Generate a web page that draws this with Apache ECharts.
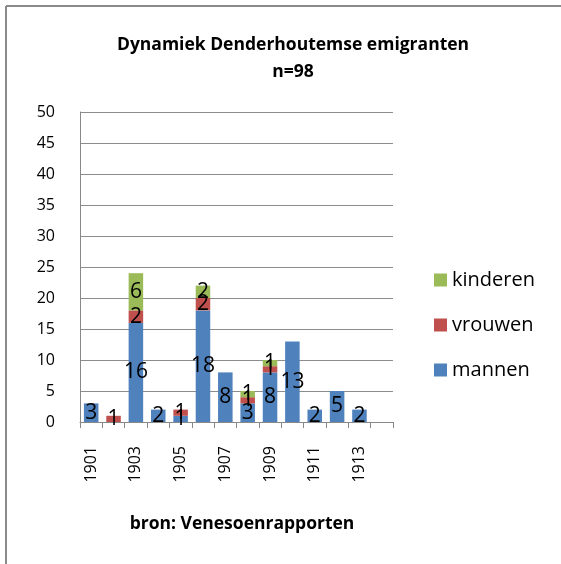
<!DOCTYPE html>
<html>
<head>
<meta charset="utf-8">
<script src="https://cdn.jsdelivr.net/npm/echarts@6/dist/echarts.min.js"></script>
<style>
html, body { margin: 0; padding: 0; background: #fff; }
#chart { width: 561px; height: 564px; }
</style>
</head>
<body>
<div id="chart"></div>
<script>
// categorieen en waarden (laatste vak is leeg in het origineel)
var jaren = ['1901','1902','1903','1904','1905','1906','1907','1908','1909','1910','1911','1912','1913','1914'];
var mannen   = [3, 0, 16, 2, 1, 18, 8, 3, 8, 13, 2, 5, 2, 0];
var vrouwen  = [0, 1, 2, 0, 1, 2, 0, 1, 1, 0, 0, 0, 0, 0];
var kinderen = [0, 0, 6, 0, 0, 2, 0, 1, 1, 0, 0, 0, 0, 0];
var yTicks = [0, 5, 10, 15, 20, 25, 30, 35, 40, 45, 50];

var font = '"Open Sans", Lato, sans-serif';

var myChart = echarts.init(document.getElementById('chart'));

function serie(naam, data, kleur) {
    return {
        name: naam,
        type: 'bar',
        stack: 'totaal',
        barCategoryGap: '35%',
        itemStyle: { color: kleur },
        label: {
            show: true,
            position: 'inside',
            color: '#000',
            fontSize: 21,
            fontFamily: font,
            formatter: function (p) { return p.value ? p.value : ''; }
        },
        data: data.map(function (v) { return v === 0 ? null : v; })
    };
}

var option = {
    animation: false,
    backgroundColor: '#fff',
    textStyle: { fontFamily: font },
    title: [{
        text: 'Dynamiek Denderhoutemse emigranten\nn=98',
        left: 288,
        top: 27,
        textAlign: 'center',
        textStyle: { fontSize: 17.5, fontWeight: 'bold', color: '#000', fontFamily: font, lineHeight: 27 }
    }, {
        text: 'bron: Venesoenrapporten',
        left: 237,
        top: 510,
        textAlign: 'center',
        textStyle: { fontSize: 17.5, fontWeight: 'bold', color: '#000', fontFamily: font }
    }],
    legend: {
        orient: 'vertical',
        left: 429,
        top: 265,
        itemWidth: 13,
        itemHeight: 13,
        itemGap: 25,
        icon: 'rect',
        textStyle: { fontSize: 20, lineHeight: 20, color: '#000', fontFamily: font },
        data: ['kinderen', 'vrouwen', 'mannen']
    },
    grid: { left: 80, top: 112, width: 313, height: 310, containLabel: false },
    xAxis: {
        type: 'category',
        data: jaren,
        axisLine: { lineStyle: { color: '#888', width: 1 } },
        axisTick: { show: true, interval: 0, length: 6, lineStyle: { color: '#888' } },
        axisLabel: { interval: 1, rotate: 90, margin: 24, fontSize: 16, color: '#000', fontFamily: font }
    },
    yAxis: {
        type: 'value',
        min: yTicks[0],
        max: yTicks[yTicks.length - 1],
        interval: 5,
        axisLine: { show: true, lineStyle: { color: '#888', width: 1 } },
        axisTick: { show: false },
        splitLine: { lineStyle: { color: '#8c8c8c', width: 1 } },
        axisLabel: { fontSize: 16, color: '#000', margin: 25, fontFamily: font }
    },
    graphic: [
        { type: 'line', shape: { x1: 6, y1: 6, x2: 561, y2: 6 }, style: { stroke: '#8a8a8a', lineWidth: 2 } },
        { type: 'line', shape: { x1: 6, y1: 6, x2: 6, y2: 564 }, style: { stroke: '#8a8a8a', lineWidth: 2 } }
    ],
    series: [
        serie('mannen', mannen, '#4F81BD'),
        serie('vrouwen', vrouwen, '#C0504D'),
        serie('kinderen', kinderen, '#9BBB59')
    ]
};
myChart.setOption(option);
</script>
</body>
</html>
